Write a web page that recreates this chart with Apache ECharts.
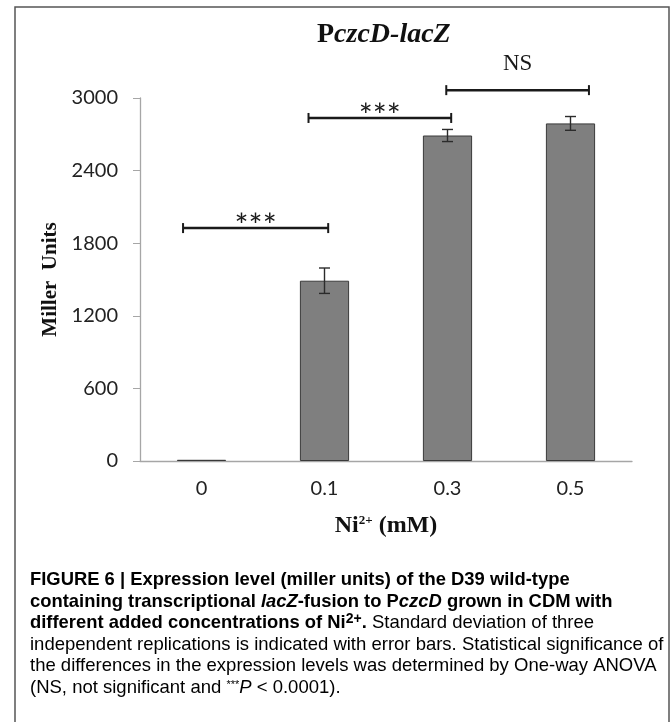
<!DOCTYPE html>
<html>
<head>
<meta charset="UTF-8">
<title>PczcD-lacZ</title>
<script src="https://cdn.jsdelivr.net/npm/echarts@6.0.0/dist/echarts.min.js"></script>
<style>
  html, body { margin: 0; padding: 0; background: #fff; }
  #main { width: 671px; height: 722px; }
</style>
</head>
<body>
<div id="main"></div>
<script>
// Ni2+ concentration (mM) and measured expression
var categories = ['0', '0.1', '0.3', '0.5'];
var millerUnits = [10, 1490, 2690, 2790];
var stdDev = [0, 105, 50, 57];

// significance brackets, x given in category units (0 = first bar)
var bracketFrom = [-0.15, 0.87, 1.99];
var bracketTo = [1.03, 2.03, 3.15];
var bracketAt = [1925, 2835, 3065];
var bracketText = ['***', '***', 'NS'];

var myChart = echarts.init(document.getElementById('main'));

var errData = [];
for (var i = 0; i < categories.length; i++) {
  if (stdDev[i] > 0) errData.push([i, millerUnits[i] - stdDev[i], millerUnits[i] + stdDev[i]]);
}
var brData = bracketFrom.map(function (f, i) { return [f, bracketTo[i], bracketAt[i], i]; });

function renderErr(params, api) {
  var x = api.value(0);
  var lo = api.coord([x, api.value(1)]);
  var hi = api.coord([x, api.value(2)]);
  var w = 5.5;
  var st = { stroke: '#2b2b2b', lineWidth: 1.4 };
  return {
    type: 'group',
    children: [
      { type: 'line', shape: { x1: lo[0], y1: lo[1], x2: hi[0], y2: hi[1] }, style: st },
      { type: 'line', shape: { x1: lo[0] - w, y1: lo[1], x2: lo[0] + w, y2: lo[1] }, style: st },
      { type: 'line', shape: { x1: hi[0] - w, y1: hi[1], x2: hi[0] + w, y2: hi[1] }, style: st }
    ]
  };
}

function renderBracket(params, api) {
  var a = api.coord([api.value(0), api.value(2)]);
  var b = api.coord([api.value(1), api.value(2)]);
  var h = 5;
  var label = bracketText[api.value(3)];
  var ns = label === 'NS';
  var st = { stroke: '#1a1a1a', lineWidth: 2.5 };
  return {
    type: 'group',
    children: [
      { type: 'line', shape: { x1: a[0], y1: a[1], x2: b[0], y2: b[1] }, style: st },
      { type: 'line', shape: { x1: a[0], y1: a[1] - h, x2: a[0], y2: a[1] + h }, style: { stroke: '#1a1a1a', lineWidth: 2 } },
      { type: 'line', shape: { x1: b[0], y1: b[1] - h, x2: b[0], y2: b[1] + h }, style: { stroke: '#1a1a1a', lineWidth: 2 } },
      {
        type: 'text',
        style: {
          x: (a[0] + b[0]) / 2,
          y: a[1] - (ns ? 26 : 2),
          text: label,
          align: 'center',
          verticalAlign: 'middle',
          font: ns ? '23px "Liberation Serif"' : '33px Lato',
          fill: '#1a1a1a'
        }
      }
    ]
  };
}

var capBold = { fontFamily: 'Liberation Sans', fontWeight: 'bold', fontSize: 18.4, color: '#231f20' };
var capBoldIt = { fontFamily: 'Liberation Sans', fontWeight: 'bold', fontStyle: 'italic', fontSize: 18.4, color: '#231f20' };
var capBoldSup = { fontFamily: 'Liberation Sans', fontWeight: 'bold', fontSize: 14, color: '#231f20', padding: [0, 0, 9, 0] };
var capReg = { fontFamily: 'Liberation Sans', fontSize: 18.5, color: '#555' };
var capRegIt = { fontFamily: 'Liberation Sans', fontStyle: 'italic', fontSize: 18.5, color: '#555' };
var capRegSup = { fontFamily: 'Liberation Sans', fontSize: 11, color: '#555', padding: [0, 0, 7, 0] };
var capRich = { b: capBold, bi: capBoldIt, bs: capBoldSup, r: capReg, ri: capRegIt, rs: capRegSup };

var captionLines = [
  '{b|FIGURE 6 | Expression level (miller units) of the D39 wild-type}',
  '{b|containing transcriptional }{bi|lacZ}{b|-fusion to P}{bi|czcD}{b| grown in CDM with}',
  '{b|different added concentrations of Ni}{bs|2+}{b|.}{r| Standard deviation of three}',
  '{r|independent replications is indicated with error bars. Statistical significance of}',
  '{r|the differences in the expression levels was determined by One-way ANOVA}',
  '{r|(NS, not significant and }{rs|***}{ri|P}{r| < 0.0001).}'
];

var graphics = [{
  type: 'rect',
  silent: true,
  shape: { x: 15, y: 7, width: 654, height: 800 },
  style: { fill: 'none', stroke: '#555', lineWidth: 1.5 }
}];
captionLines.forEach(function (t, i) {
  graphics.push({
    type: 'text',
    x: 30,
    y: 580 + i * 21.6,
    style: { text: t, rich: capRich, verticalAlign: 'middle' }
  });
});

var option = {
  backgroundColor: '#fff',
  animation: false,
  title: {
    text: '{a|P}{b|czcD-lacZ}',
    left: 312,
    top: 16,
    textStyle: {
      rich: {
        a: { fontFamily: 'Liberation Serif', fontWeight: 'bold', fontSize: 28, color: '#111' },
        b: { fontFamily: 'Liberation Serif', fontWeight: 'bold', fontStyle: 'italic', fontSize: 28, color: '#111' }
      }
    }
  },
  grid: { left: 140, right: 39, top: 98, bottom: 261 },
  xAxis: [{
    type: 'category',
    data: categories,
    axisLine: { lineStyle: { color: '#a6a6a6', width: 1.3 } },
    axisTick: { length: 6, lineStyle: { color: '#a6a6a6' } },
    axisLabel: { margin: 18, fontFamily: 'Lato', fontSize: 20, color: '#222' },
    name: '{n|Ni}{s|2+}{n| (mM)}',
    nameLocation: 'middle',
    nameGap: 53,
    nameTextStyle: {
      rich: {
        n: { fontFamily: 'Liberation Serif', fontWeight: 'bold', fontSize: 24, color: '#111' },
        s: { fontFamily: 'Liberation Serif', fontWeight: 'bold', fontSize: 13, color: '#111', padding: [0, 0, 10, 0] }
      }
    }
  }, {
    type: 'value',
    min: -0.5,
    max: 3.5,
    show: false
  }],
  yAxis: {
    type: 'value',
    min: 0,
    max: 3000,
    interval: 600,
    splitLine: { show: false },
    axisLine: { show: true, onZero: false, lineStyle: { color: '#a6a6a6', width: 1.3 } },
    axisTick: { show: true, length: 7, lineStyle: { color: '#a6a6a6' } },
    axisLabel: {
      margin: 22, fontFamily: 'Lato', fontSize: 20, color: '#222',
      formatter: function (v) { return String(v); }
    },
    name: 'Miller  Units',
    nameLocation: 'middle',
    nameRotate: 90,
    nameGap: 68,
    nameTextStyle: { fontFamily: 'Liberation Serif', fontWeight: 'bold', fontSize: 21, color: '#111' }
  },
  series: [{
    type: 'bar',
    data: millerUnits,
    barWidth: '40%',
    itemStyle: { color: '#7f7f7f', borderColor: '#3a3a3a', borderWidth: 1 }
  }, {
    type: 'custom',
    data: errData,
    renderItem: renderErr,
    clip: false,
    z: 5
  }, {
    type: 'custom',
    xAxisIndex: 1,
    data: brData,
    renderItem: renderBracket,
    clip: false,
    z: 5
  }],
  graphic: graphics
};

myChart.setOption(option);
</script>
</body>
</html>
